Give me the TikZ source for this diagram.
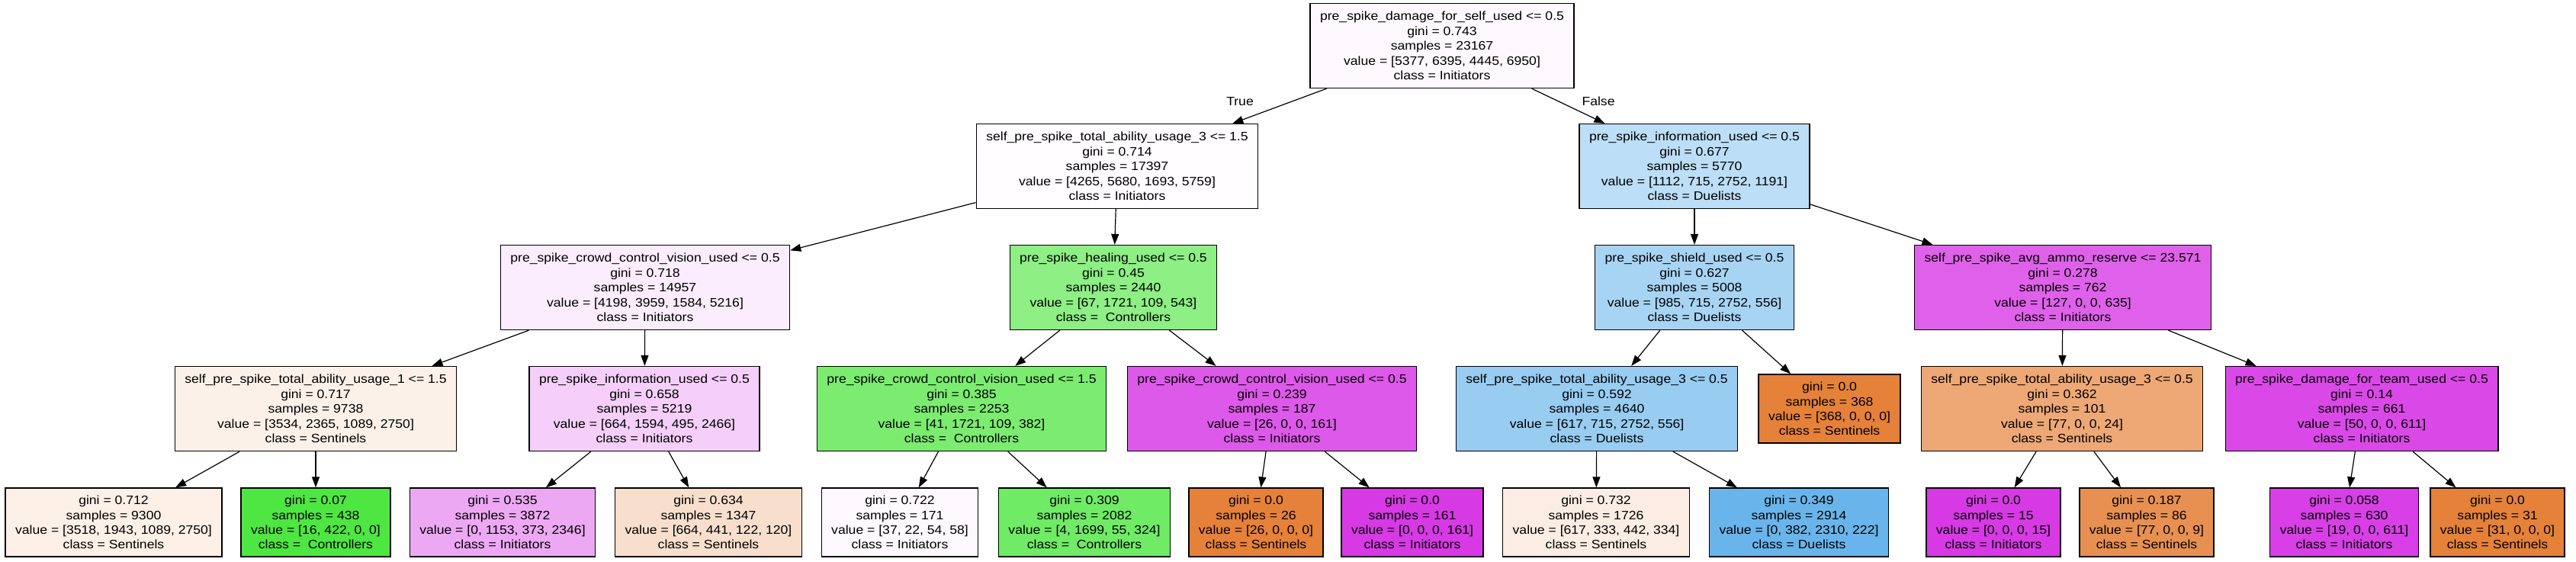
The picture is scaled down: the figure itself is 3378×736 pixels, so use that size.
\documentclass[tikz,border=0pt]{standalone}
\usepackage{fontspec}
\setmainfont{Liberation Sans}[FakeStretch=1.1]
\usetikzlibrary{arrows.meta}
\definecolor{sent}{HTML}{E58139}
\definecolor{ctrl}{HTML}{47E539}
\definecolor{duel}{HTML}{399DE5}
\definecolor{init}{HTML}{D739E5}

\begin{document}
\begin{tikzpicture}[x=0.5pt,y=-0.5pt, every node/.style={font=\fontsize{8}{9.7}\selectfont},
 split/.style={draw=black,line width=0.65pt,align=center,inner xsep=6.5pt,inner ysep=1pt,minimum height=55.5pt},
 leaf/.style={split,minimum height=45pt},
 arr/.style={-{Triangle[length=7pt,width=5pt]},line width=0.6pt}]
\useasboundingbox[fill=white] (0,0) rectangle (3378,736);
% level 0 and 1
\node[split,fill=init!3] (root) at (1891,60) {pre\_spike\_damage\_for\_self\_used <= 0.5\\gini = 0.743\\samples = 23167\\value = [5377, 6395, 4445, 6950]\\class = Initiators};
\node[split,fill=init!1] (usage3a) at (1465,218) {self\_pre\_spike\_total\_ability\_usage\_3 <= 1.5\\gini = 0.714\\samples = 17397\\value = [4265, 5680, 1693, 5759]\\class = Initiators};
\node[split,fill=duel!34] (info) at (2222,218) {pre\_spike\_information\_used <= 0.5\\gini = 0.677\\samples = 5770\\value = [1112, 715, 2752, 1191]\\class = Duelists};
% level 2
\node[split,fill=init!9] (crowd) at (846,377) {pre\_spike\_crowd\_control\_vision\_used <= 0.5\\gini = 0.718\\samples = 14957\\value = [4198, 3959, 1584, 5216]\\class = Initiators};
\node[split,fill=ctrl!62] (heal) at (1460,377) {pre\_spike\_healing\_used <= 0.5\\gini = 0.45\\samples = 2440\\value = [67, 1721, 109, 543]\\class = \ Controllers};
\node[split,fill=duel!44] (shield) at (2222,377) {pre\_spike\_shield\_used <= 0.5\\gini = 0.627\\samples = 5008\\value = [985, 715, 2752, 556]\\class = Duelists};
\node[split,fill=init!80] (ammo) at (2705,377) {self\_pre\_spike\_avg\_ammo\_reserve <= 23.571\\gini = 0.278\\samples = 762\\value = [127, 0, 0, 635]\\class = Initiators};
% level 3
\node[split,fill=sent!11] (usage1) at (414,536) {self\_pre\_spike\_total\_ability\_usage\_1 <= 1.5\\gini = 0.717\\samples = 9738\\value = [3534, 2365, 1089, 2750]\\class = Sentinels};
\node[split,fill=init!24] (info2) at (845,536) {pre\_spike\_information\_used <= 0.5\\gini = 0.658\\samples = 5219\\value = [664, 1594, 495, 2466]\\class = Initiators};
\node[split,fill=ctrl!72] (crowd2) at (1261,536) {pre\_spike\_crowd\_control\_vision\_used <= 1.5\\gini = 0.385\\samples = 2253\\value = [41, 1721, 109, 382]\\class = \ Controllers};
\node[split,fill=init!84] (crowd3) at (1668,536) {pre\_spike\_crowd\_control\_vision\_used <= 0.5\\gini = 0.239\\samples = 187\\value = [26, 0, 0, 161]\\class = Initiators};
\node[split,fill=duel!52] (usage3b) at (2094,536) {self\_pre\_spike\_total\_ability\_usage\_3 <= 0.5\\gini = 0.592\\samples = 4640\\value = [617, 715, 2752, 556]\\class = Duelists};
\node[leaf,fill=sent] (pure1) at (2399,536) {gini = 0.0\\samples = 368\\value = [368, 0, 0, 0]\\class = Sentinels};
\node[split,fill=sent!69] (usage3c) at (2704,536) {self\_pre\_spike\_total\_ability\_usage\_3 <= 0.5\\gini = 0.362\\samples = 101\\value = [77, 0, 0, 24]\\class = Sentinels};
\node[split,fill=init!92] (team) at (3097,536) {pre\_spike\_damage\_for\_team\_used <= 0.5\\gini = 0.14\\samples = 661\\value = [50, 0, 0, 611]\\class = Initiators};
% leaves
\node[leaf,fill=sent!12] (l1) at (149,685) {gini = 0.712\\samples = 9300\\value = [3518, 1943, 1089, 2750]\\class = Sentinels};
\node[leaf,fill=ctrl!96] (l2) at (414,685) {gini = 0.07\\samples = 438\\value = [16, 422, 0, 0]\\class = \ Controllers};
\node[leaf,fill=init!44] (l3) at (659,685) {gini = 0.535\\samples = 3872\\value = [0, 1153, 373, 2346]\\class = Initiators};
\node[leaf,fill=sent!25] (l4) at (929,685) {gini = 0.634\\samples = 1347\\value = [664, 441, 122, 120]\\class = Sentinels};
\node[leaf,fill=init!3] (l5) at (1180,685) {gini = 0.722\\samples = 171\\value = [37, 22, 54, 58]\\class = Initiators};
\node[leaf,fill=ctrl!78] (l6) at (1422,685) {gini = 0.309\\samples = 2082\\value = [4, 1699, 55, 324]\\class = \ Controllers};
\node[leaf,fill=sent] (l7) at (1647,685) {gini = 0.0\\samples = 26\\value = [26, 0, 0, 0]\\class = Sentinels};
\node[leaf,fill=init] (l8) at (1852,685) {gini = 0.0\\samples = 161\\value = [0, 0, 0, 161]\\class = Initiators};
\node[leaf,fill=sent!14] (l9) at (2093,685) {gini = 0.732\\samples = 1726\\value = [617, 333, 442, 334]\\class = Sentinels};
\node[leaf,fill=duel!76] (l10) at (2359,685) {gini = 0.349\\samples = 2914\\value = [0, 382, 2310, 222]\\class = Duelists};
\node[leaf,fill=init] (l11) at (2614,685) {gini = 0.0\\samples = 15\\value = [0, 0, 0, 15]\\class = Initiators};
\node[leaf,fill=sent!88] (l12) at (2815,685) {gini = 0.187\\samples = 86\\value = [77, 0, 0, 9]\\class = Sentinels};
\node[leaf,fill=init!97] (l13) at (3074,685) {gini = 0.058\\samples = 630\\value = [19, 0, 0, 611]\\class = Initiators};
\node[leaf,fill=sent] (l14) at (3275,685) {gini = 0.0\\samples = 31\\value = [31, 0, 0, 0]\\class = Sentinels};
\node (true) at (1626,133) {True};
\node (false) at (2096,133) {False};
% edges
\draw[arr] (root)--(usage3a);\draw[arr] (root)--(info);
\draw[arr] (usage3a)--(crowd);\draw[arr] (usage3a)--(heal);
\draw[arr] (info)--(shield);\draw[arr] (info)--(ammo);
\draw[arr] (crowd)--(usage1);\draw[arr] (crowd)--(info2);
\draw[arr] (heal)--(crowd2);\draw[arr] (heal)--(crowd3);
\draw[arr] (shield)--(usage3b);\draw[arr] (shield)--(pure1);
\draw[arr] (ammo)--(usage3c);\draw[arr] (ammo)--(team);
\draw[arr] (usage1)--(l1);\draw[arr] (usage1)--(l2);
\draw[arr] (info2)--(l3);\draw[arr] (info2)--(l4);
\draw[arr] (crowd2)--(l5);\draw[arr] (crowd2)--(l6);
\draw[arr] (crowd3)--(l7);\draw[arr] (crowd3)--(l8);
\draw[arr] (usage3b)--(l9);\draw[arr] (usage3b)--(l10);
\draw[arr] (usage3c)--(l11);\draw[arr] (usage3c)--(l12);
\draw[arr] (team)--(l13);\draw[arr] (team)--(l14);
\end{tikzpicture}
\end{document}
